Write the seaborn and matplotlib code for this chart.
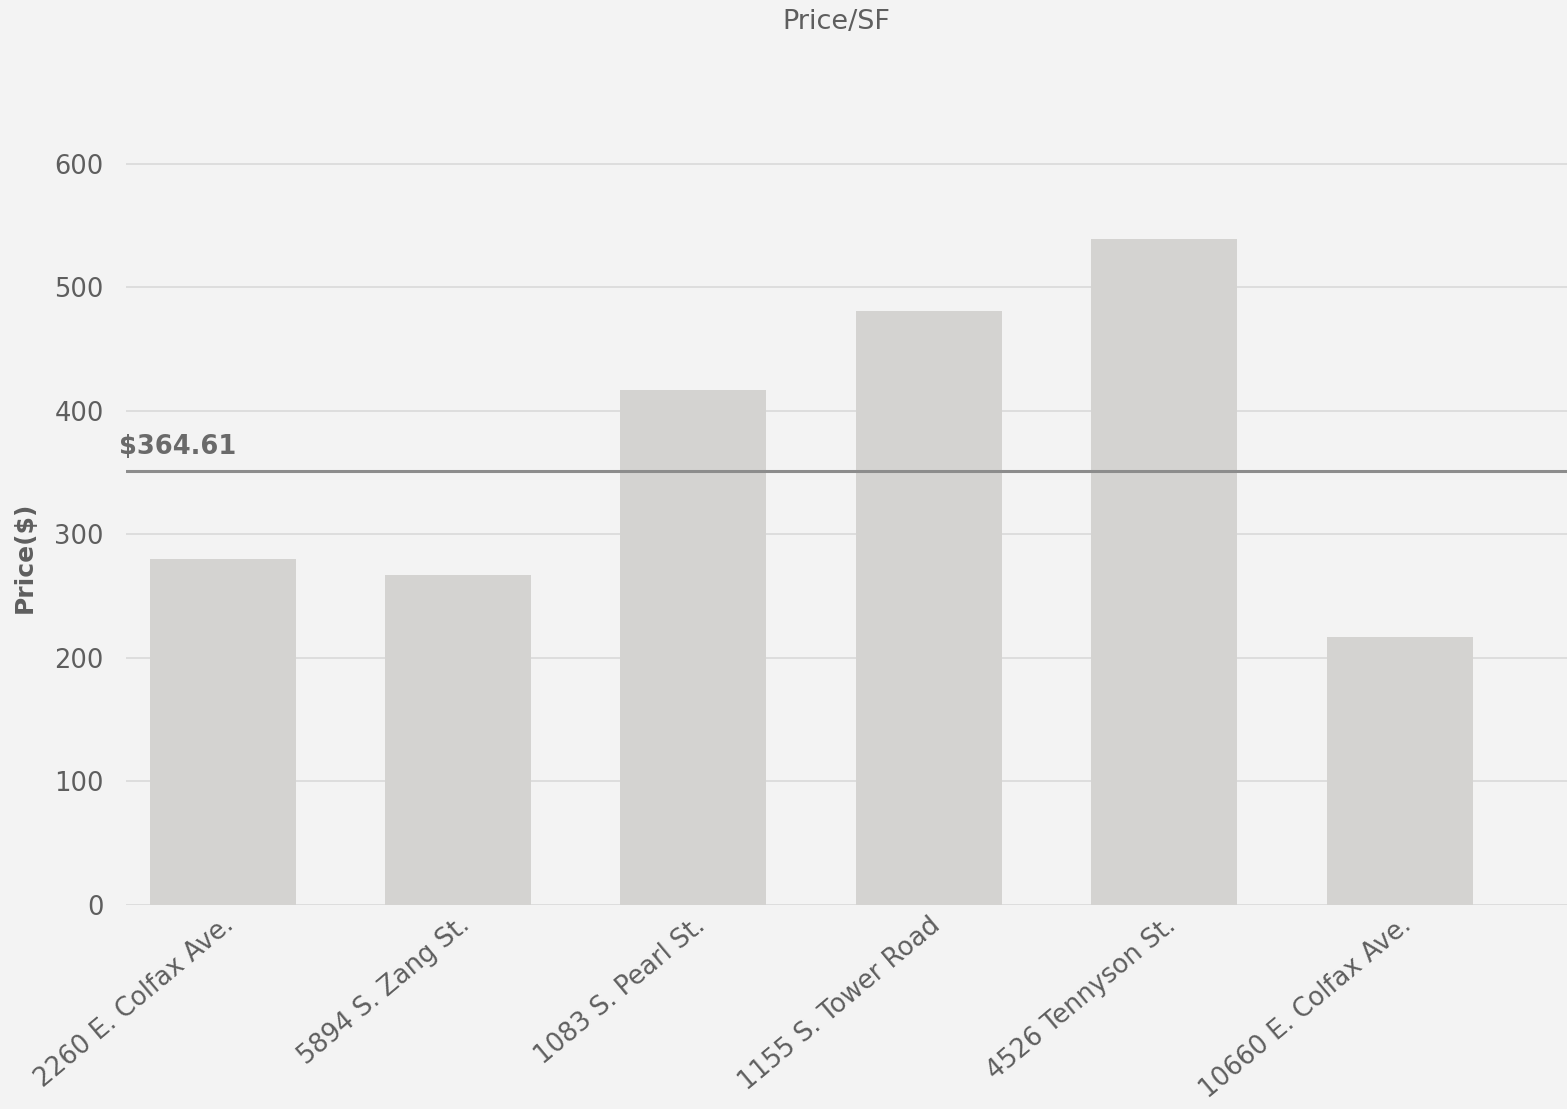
import matplotlib
matplotlib.use("Agg")
import matplotlib.pyplot as plt
import seaborn as sns
import pandas as pd

# ---- data ----
properties = ["2260 E. Colfax Ave.", "5894 S. Zang St.", "1083 S. Pearl St.",
              "1155 S. Tower Road", "4526 Tennyson St.", "10660 E. Colfax Ave."]
price_sf = [280, 267, 417, 481, 539, 217]
avg_line_value = 351
avg_label = "$364.61"
y_ticks = [0, 100, 200, 300, 400, 500, 600]
title = "Price/SF"
y_label = "Price($)"

df = pd.DataFrame({"property": properties, "price": price_sf})

sns.set_theme(style="white")
plt.rcParams["font.family"] = ["DejaVu Sans"]

text_color = "#5e5e5e"
bg = "#f3f3f3"

fig = plt.figure(figsize=(15.67, 11.09), dpi=100, facecolor=bg)
ax = fig.add_axes([126 / 1567, 1 - 905 / 1109, 1 - 126 / 1567, (905 - 65) / 1109])
ax.set_facecolor(bg)

sns.barplot(data=df, x="property", y="price", color="#d4d3d1", width=0.62,
            saturation=1, linewidth=0, ax=ax, zorder=2)

ax.set_ylim(0, 680)
ax.set_xlim(-0.41, 5.71)
ax.set_yticks(y_ticks)
ax.yaxis.grid(True, color="#d9d9d9", linewidth=1.2, zorder=1)
ax.set_axisbelow(True)
for s in ax.spines.values():
    s.set_visible(False)

ax.axhline(avg_line_value, color="#8c8c8c", linewidth=2.2, zorder=3)
ax.text(-0.44, avg_line_value + 9, avg_label, fontsize=18.5, fontweight="bold",
        color="#6a6a6a", ha="left", va="bottom", zorder=4)

ax.tick_params(axis="y", length=0, pad=16, labelsize=18.5, labelcolor=text_color)
ax.tick_params(axis="x", length=0, pad=5, labelsize=18.5, labelcolor=text_color)
for lbl in ax.get_xticklabels():
    lbl.set_rotation(40)
    lbl.set_ha("right")
    lbl.set_rotation_mode("anchor")

ax.set_xlabel("")
ax.set_ylabel(y_label, fontsize=18, fontweight="semibold", color=text_color)
ax.yaxis.set_label_coords(-89 / 1441, (905 - 557) / 840)

fig.text(836 / 1567, 1 - 22 / 1109, title, fontsize=19.5, fontweight="normal",
         color=text_color, ha="center", va="center")

fig.savefig("out.png", dpi=100, facecolor=bg)
